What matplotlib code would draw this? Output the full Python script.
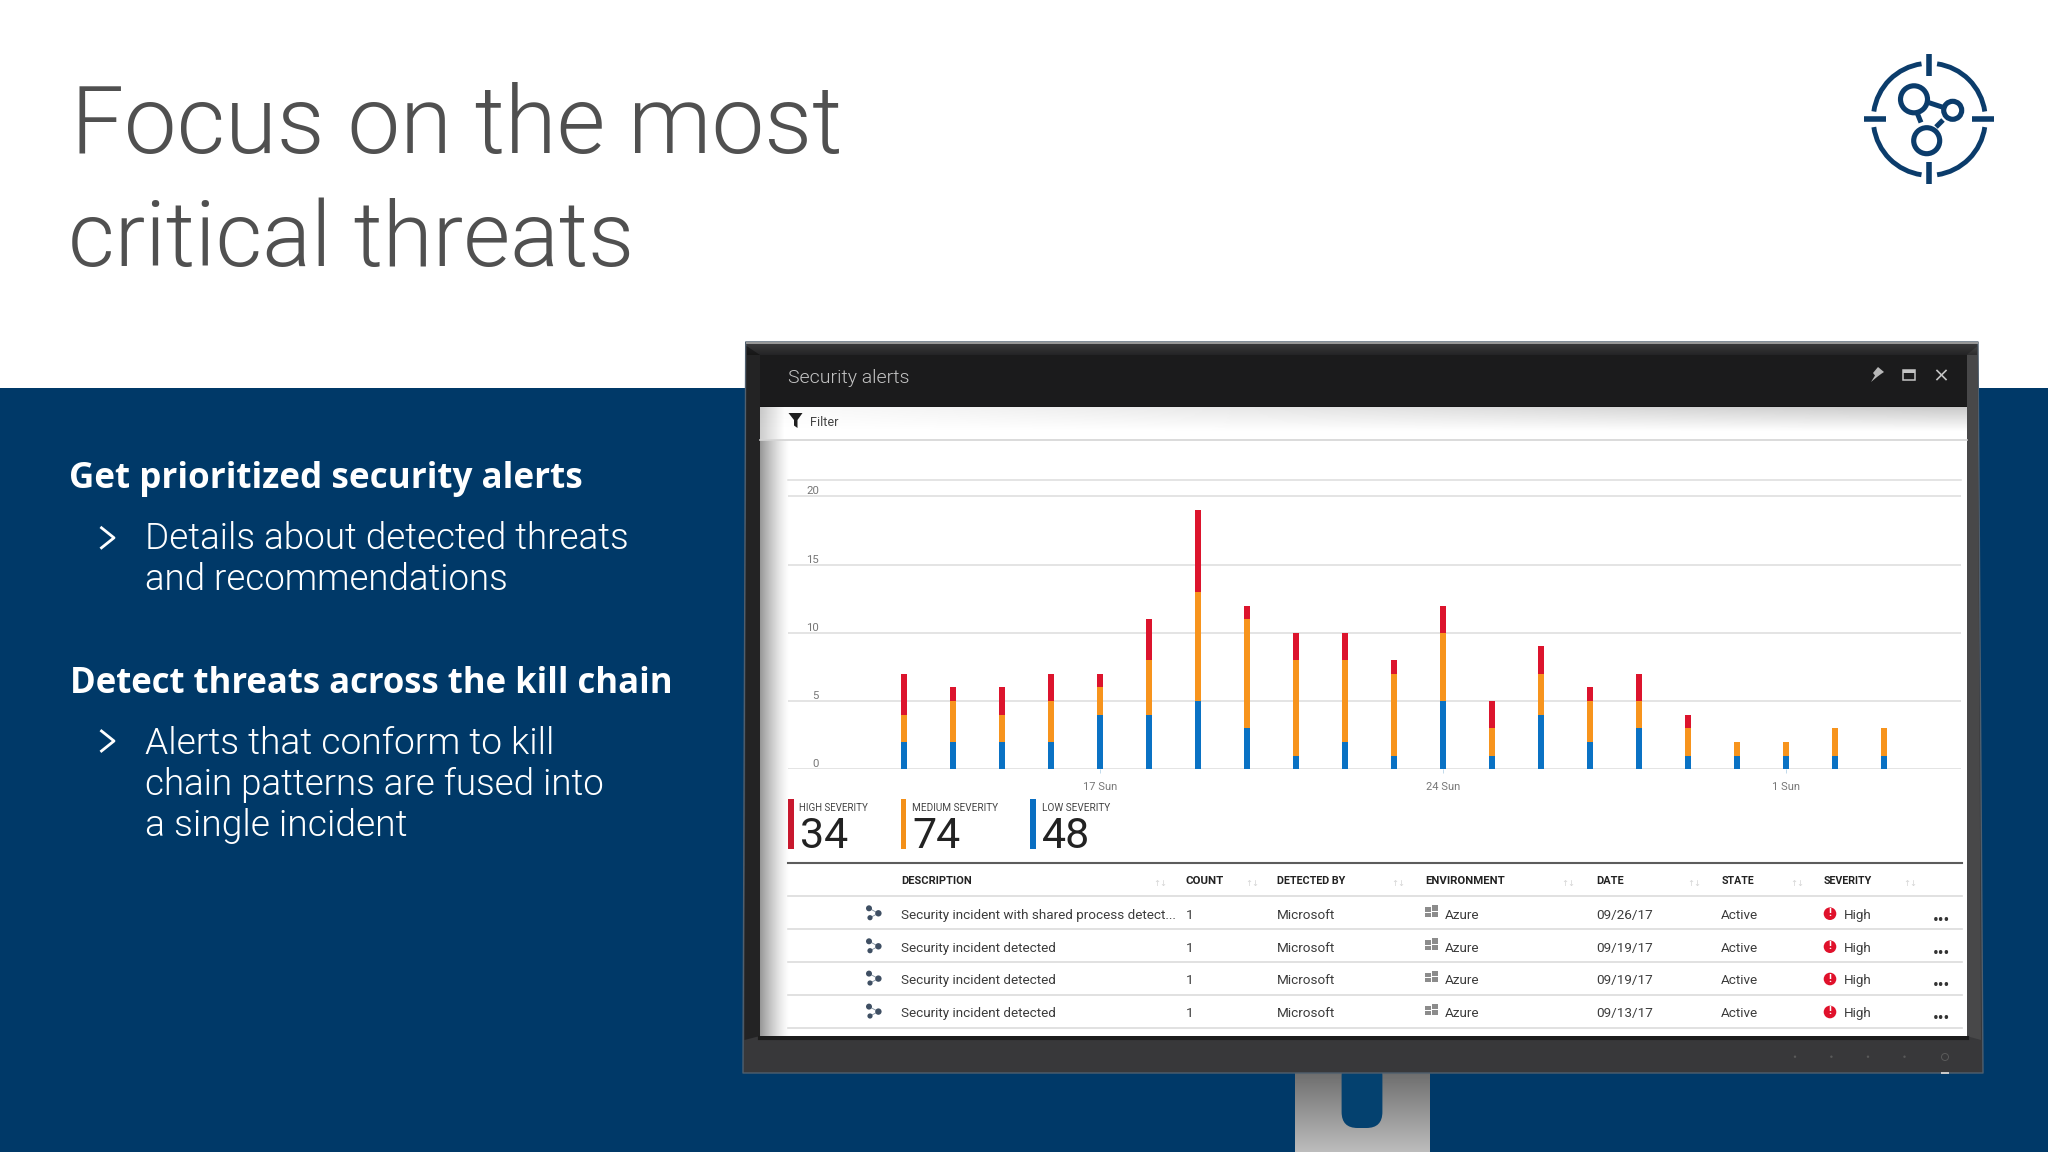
import numpy as np
import matplotlib
matplotlib.use("Agg")
import matplotlib.pyplot as plt
from matplotlib.patches import Arc, Circle, FancyBboxPatch, Polygon, Rectangle

plt.rcParams["font.family"] = ["Open Sans", "DejaVu Sans"]

# chart data, one bar per day
low_severity = [2, 2, 2, 2, 4, 4, 5, 3, 1, 2, 1, 5, 1, 4, 2, 3, 1, 1, 1, 1, 1]
medium_severity = [2, 3, 2, 3, 2, 4, 8, 8, 7, 6, 6, 5, 2, 3, 3, 2, 2, 1, 1, 2, 2]
high_severity = [3, 1, 2, 2, 1, 3, 6, 1, 2, 2, 1, 2, 2, 2, 1, 2, 1, 0, 0, 0, 0]
y_ticks = [0, 5, 10, 15, 20]
x_tick_bars = [4, 11, 18]
x_tick_labels = ["17 Sun", "24 Sun", "1 Sun"]

legend_names = ["HIGH SEVERITY", "MEDIUM SEVERITY", "LOW SEVERITY"]
legend_counts = ["34", "74", "48"]

table_headers = ["DESCRIPTION", "COUNT", "DETECTED BY", "ENVIRONMENT", "DATE", "STATE", "SEVERITY"]
row_descriptions = [
    "Security incident with shared process detect...",
    "Security incident detected",
    "Security incident detected",
    "Security incident detected",
]
row_dates = ["09/26/17", "09/19/17", "09/19/17", "09/13/17"]

BLUE = "#003968"
RED = "#dc142d"
ORANGE = "#f7941d"
AZURE = "#0a72c4"
GRID = "#dcdcdc"
LIGHT_FONT = "Roboto"
TABLE_FONT = "Roboto"

fig = plt.figure(figsize=(20.48, 11.52), dpi=100, facecolor="white")
bg = fig.add_axes([0, 0, 1, 1], zorder=0)
bg.set_xlim(0, 2048)
bg.set_ylim(1152, 0)
bg.axis("off")
renderer = fig.canvas.get_renderer()


def put(x, y, s, width=None, **kw):
    va = kw.pop("va", "baseline")
    t = bg.text(x, y, s, va=va, **kw)
    if width:
        t.set_fontsize(t.get_fontsize() * width / t.get_window_extent(renderer).width)
    return t


def fade(x0, x1, y0, y1, alpha, color=(0, 0, 0), zorder=3):
    h, w = alpha.shape
    img = np.zeros((h, w, 4))
    img[..., :3] = color
    img[..., 3] = alpha
    bg.imshow(img, extent=[x0, x1, y1, y0], aspect="auto", zorder=zorder, interpolation="bilinear")


# slide background
bg.add_patch(Rectangle((0, 387.5), 2048, 765, fc=BLUE, ec="none", zorder=1))

# title
put(71, 152.7, "Focus on the most", width=772, fontsize=70, color="#505050", family=LIGHT_FONT, weight=300)
put(68, 266, "critical threats", width=566, fontsize=70, color="#505050", family=LIGHT_FONT, weight=300)

# left text
put(69, 488.3, "Get prioritized security alerts", width=514, fontsize=26, color="white", weight="bold", zorder=2)
put(70, 692.7, "Detect threats across the kill chain", width=606, fontsize=26, color="white", weight="bold", zorder=2)
bullets = [
    (145, 549.3, "Details about detected threats", 486),
    (145, 590, "and recommendations", 363),
    (145, 754, "Alerts that conform to kill", 410),
    (145, 795, "chain patterns are fused into", 459),
    (145, 835.7, "a single incident", 262),
]
for x, y, s, w in bullets:
    put(x, y, s, width=w, fontsize=26, color="white", family=LIGHT_FONT, weight=300, zorder=2)
for cy in [537.8, 741]:
    bg.plot([101.5, 114, 101.5], [cy - 10, cy, cy + 10], color="white", lw=2, zorder=2)

# target icon top right
cx, cy = 1929.3, 119.3
ICON = "#0b3c6b"
for a in [8, 98, 188, 278]:
    bg.add_patch(Arc((cx, cy), 112, 112, theta1=a, theta2=a + 74, color=ICON, lw=3.5, zorder=2))
for dx, dy in [(1, 0), (-1, 0), (0, 1), (0, -1)]:
    bg.plot([cx + 43 * dx, cx + 65 * dx], [cy + 43 * dy, cy + 65 * dy], color=ICON, lw=4,
            solid_capstyle="butt", zorder=2)
for px, py, r in [(1914, 99.3, 13.5), (1952.7, 110.3, 9), (1926.7, 140.7, 13)]:
    bg.add_patch(Circle((px, py), r, fc="none", ec=ICON, lw=3.7, zorder=2))
for x0, y0, x1, y1 in [(1929, 102.7, 1943, 107.3), (1917.3, 113.3, 1921, 122.5), (1936, 127, 1943, 120)]:
    bg.plot([x0, x1], [y0, y1], color=ICON, lw=3.6, solid_capstyle="butt", zorder=2)

# monitor stand
stand = np.linspace(0.42, 0.74, 64)[:, None] * np.ones((64, 8))
bg.imshow(np.dstack([stand, stand, stand]), extent=[1295, 1430, 1152, 1070], aspect="auto", zorder=2)
bg.add_patch(FancyBboxPatch((1341.6, 1060), 40.8, 68, boxstyle="round,pad=0,rounding_size=16",
                            fc="#04416f", ec="none", zorder=2.1))

# monitor frame
bg.add_patch(Polygon([(745.7, 342), (1978, 342), (1983, 1073), (743, 1073)], closed=True,
                     fc="#38383a", ec="#4f5f6e", lw=1, joinstyle="round", zorder=2.5))
bg.add_patch(Polygon([(746.5, 346), (760, 355), (760, 1036), (744.5, 1040)], closed=True,
                     fc="#232324", ec="none", zorder=2.6))
bg.add_patch(Polygon([(1966.5, 355), (1977.5, 346), (1981, 1040), (1966.5, 1036)], closed=True,
                     fc="#484849", ec="none", zorder=2.6))
bg.plot([747, 1977], [343.2, 343.2], color="#9a9a9a", lw=1.4, zorder=2.7)
fade(747, 1977, 344, 355, np.linspace(0.0, 0.35, 16)[:, None] * np.ones((16, 2)), zorder=2.7)
bg.plot([760, 1966.5], [1038, 1038], color="#1c1c1c", lw=3, zorder=2.7)
for bx in [1795, 1831.4, 1868, 1904.5]:
    bg.add_patch(Circle((bx, 1056.7), 1.2, fc="#5a5a5a", ec="none", zorder=2.8))
bg.add_patch(Circle((1945, 1057), 3.5, fc="none", ec="#5a5a5a", lw=0.7, zorder=2.8))
bg.add_patch(Rectangle((1941, 1071.5), 8, 2, fc="#c8c8c8", ec="none", zorder=2.8))

# screen
bg.add_patch(Rectangle((760, 355), 1206.5, 51.5, fc="#1b1b1c", ec="none", zorder=2.8))
bg.add_patch(Rectangle((760, 406.5), 1206.5, 629.5, fc="white", ec="none", zorder=2.8))
put(787.7, 383, "Security alerts", width=121, fontsize=15, color="#c4c4c4", family=LIGHT_FONT,
    weight=300, zorder=4)

# header icons
bg.add_patch(Polygon([(1871, 382), (1875, 375.5), (1873, 373), (1878, 367), (1884, 372), (1881, 374), (1877, 377)],
                     closed=True, fc="#b8b8b8", ec="none", zorder=4))
bg.add_patch(Rectangle((1903, 370), 12, 10, fc="none", ec="#c4c4c4", lw=1.1, zorder=4))
bg.add_patch(Rectangle((1903, 370), 12, 3, fc="#c4c4c4", ec="none", zorder=4))
bg.plot([1937, 1946], [370.5, 379.5], color="#c4c4c4", lw=1.2, zorder=4)
bg.plot([1946, 1937], [370.5, 379.5], color="#c4c4c4", lw=1.2, zorder=4)

# filter strip and shadows
strip = np.linspace(0.22, 0, 32)[:, None] * np.linspace(0.1, 1, 32)[None, :]
fade(760, 1966.5, 406.5, 432, strip, zorder=2.9)
fade(760, 790, 440, 1036, np.linspace(0.5, 0, 32)[None, :] ** 1.3 * np.ones((2, 32)), zorder=2.9)
fade(760, 785, 406.5, 440, np.linspace(0.2, 0, 32)[None, :] * np.ones((2, 32)), zorder=2.9)
bg.add_patch(Polygon([(788.5, 413), (802.5, 413), (797.5, 420), (797.5, 428), (794, 425.5), (794, 420)],
                     closed=True, fc="#1e1e1e", ec="none", zorder=4))
put(810.4, 426, "Filter", fontsize=9.2, color="#444444", family=TABLE_FONT, zorder=4)
bg.plot([760, 1966.5], [439.7, 439.7], color="#d4d4d4", lw=1.2, zorder=4)

# stacked bars, on their own axes so they use real scales
PX_PER_BAR = 49.0
BAR0 = 904.2
Y0 = 769.3
PX_PER_ALERT = 13.65
left, right, top = 788, 1961, 480
ax = fig.add_axes([left / 2048, 1 - Y0 / 1152, (right - left) / 2048, (Y0 - top) / 1152], zorder=5)
ax.patch.set_alpha(0)
ax.set_xlim((left - BAR0) / PX_PER_BAR, (right - BAR0) / PX_PER_BAR)
ax.set_ylim(0, (Y0 - top) / PX_PER_ALERT)

days = np.arange(len(low_severity))
low = np.array(low_severity)
medium = np.array(medium_severity)
high = np.array(high_severity)
ax.bar(days, low, width=0.118, color=AZURE, zorder=3)
ax.bar(days, medium, width=0.118, bottom=low, color=ORANGE, zorder=3)
ax.bar(days, high, width=0.118, bottom=low + medium, color=RED, zorder=3)

ax.set_yticks(y_ticks)
ax.set_yticklabels(y_ticks)
ax.yaxis.grid(True, color=GRID, lw=1.1)
ax.set_axisbelow(True)
for spine in ["left", "right", "bottom"]:
    ax.spines[spine].set_visible(False)
ax.spines["top"].set_color(GRID)
ax.spines["top"].set_linewidth(1.1)
ax.tick_params(axis="y", length=0, pad=-22.3, labelsize=8.2, labelcolor="#777777")
for label in ax.get_yticklabels():
    label.set_verticalalignment("bottom")
    label.set_family(TABLE_FONT)
ax.set_xticks(x_tick_bars)
ax.set_xticklabels(x_tick_labels, family=TABLE_FONT)
ax.tick_params(axis="x", length=3, width=0.6, color="#b8d4e8", pad=6, labelsize=8, labelcolor="#777777")

# legend tiles
legend_bars = [(788, 5.6, "#c8182e"), (901, 5.2, "#f39019"), (1030, 6.2, "#0a6fc2")]
legend_x = [799, 912, 1041.6]
name_w = [69, 86, 67.5]
for i in range(3):
    bx, bw, col = legend_bars[i]
    bg.add_patch(Rectangle((bx, 799.3), bw, 50, fc=col, ec="none", zorder=4))
    put(legend_x[i], 811, legend_names[i], width=name_w[i], fontsize=8, color="#444444", family=TABLE_FONT, zorder=4)
    put(legend_x[i] + 0.5, 848.3, legend_counts[i], fontsize=31, color="#222222", family=TABLE_FONT, zorder=4)

# table
bg.plot([788, 1962.4], [862.7, 862.7], color="#5c5c5c", lw=1.5, zorder=4)
for ly in [896.3, 929, 962, 994.7, 1027.7]:
    bg.plot([788, 1962.4], [ly, ly], color=GRID, lw=1.2, zorder=4)

header_x = [901.2, 1185.7, 1277, 1425.3, 1596.3, 1721.2, 1824]
header_w = [71, 38.4, 69.4, 80.4, 27.8, 32.7, 48.6]
for hx, hw, name in zip(header_x, header_w, table_headers):
    put(hx, 884.3, name, width=hw, fontsize=8, color="#222222", weight="bold", family=TABLE_FONT, zorder=4)
for ax_x in [1160, 1252, 1398, 1568.6, 1694, 1797, 1910.6]:
    put(ax_x, 884, "↑↓", fontsize=6, color="#d4d4d4", family="DejaVu Sans", ha="center", va="center", zorder=4)

row_y = [914, 947, 979.3, 1012.3]
ROW = {"fontsize": 9.7, "color": "#3c3c3c", "family": TABLE_FONT, "zorder": 4}
for desc, date, y in zip(row_descriptions, row_dates, row_y):
    put(901.2, y + 5, desc, **ROW)
    put(1185.7, y + 5, "1", **ROW)
    put(1277, y + 5, "Microsoft", **ROW)
    put(1444.5, y + 5, "Azure", **ROW)
    put(1596.3, y + 5, date, **ROW)
    put(1721.2, y + 5, "Active", **ROW)
    put(1843.7, y + 5, "High", **ROW)
    put(1932.5, y + 7, "...", width=18, fontsize=14, color="#333333", weight="bold", zorder=4)

    # incident icon
    bg.plot([869, 878.4, 870], [y - 5.7, y - 0.7, y + 3.7], color="#8090a0", lw=0.6, zorder=4)
    for dx, dy, r in [(869, -5.7, 3), (878.4, -0.7, 3.2), (870, 3.7, 2.6)]:
        bg.add_patch(Circle((dx, y + dy), r, fc="#3f4f63", ec="none", zorder=4.1))

    # windows icon
    for px, py, pw, ph in [(1425.3, -6.8, 5.4, 4.6), (1431.6, -8.6, 6.6, 5.6),
                           (1425.3, -1.4, 5.4, 4.4), (1431.6, -2.2, 6.6, 5.4)]:
        bg.add_patch(Rectangle((px, y + py), pw, ph, fc="#8c8c8c", ec="none", zorder=4))

    # severity badge
    bg.add_patch(Circle((1830, y - 0.3), 6.3, fc="#e0112b", ec="none", zorder=4))
    put(1830, y - 0.3, "!", fontsize=7.5, color="white", weight="bold", ha="center", va="center", zorder=4.1)

fig.savefig("out.png", dpi=100)
